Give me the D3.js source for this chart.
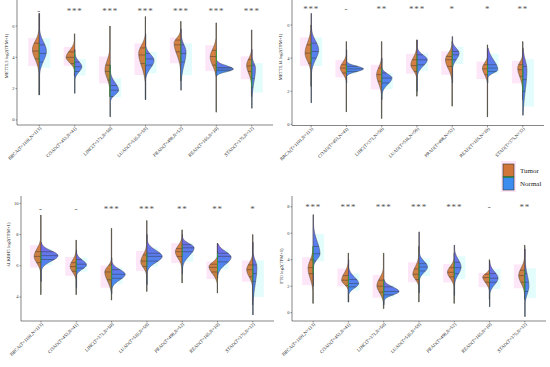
<!DOCTYPE html>
<html><head><meta charset="utf-8">
<script src="https://cdn.jsdelivr.net/npm/d3@7"></script>
<style>html,body{margin:0;padding:0;background:#fff;}svg{display:block;}</style>
</head><body><svg id="c" width="550" height="367"></svg>
<script>
// ---------------- DATA ----------------
const cancers = ["BRCA(T=1101,N=113)","COAD(T=453,N=41)","LIHC(T=371,N=50)","LUAD(T=516,N=59)","PRAD(T=498,N=52)","READ(T=165,N=10)","STAD(T=375,N=32)"];
const genes = ["METTL3","METTL14","ALKBH5","FTO"];
const groups = ["Tumor","Normal"];

// significance labels per gene
const sigMETTL3  = ["-","***","***","***","***","***","***"];
const sigMETTL14 = ["***","-","**","***","*","*","**"];
const sigALKBH5  = ["-","-","***","***","**","**","*"];
const sigFTO     = ["***","***","***","***","***","-","**"];

// each half: [min, bodyLow, q1, median, q3, bodyHigh, max, mode, relative max density]
const tumorMETTL3 = [
  [1.6,3.2,3.9,4.4,4.9,5.6,6.8,4.5,0.40],
  [2.8,3.3,3.6,4.0,4.35,4.9,5.5,4.0,0.50],
  [1.5,2.1,2.55,3.1,3.5,4.4,6.0,3.2,0.30],
  [1.3,2.6,3.6,4.15,4.6,5.3,6.6,4.25,0.40],
  [2.5,3.4,4.35,4.8,5.1,5.6,6.3,4.9,0.40],
  [0.5,2.9,3.5,4.05,4.45,5.1,6.2,4.0,0.36],
  [1.5,2.4,3.1,3.45,3.85,4.35,5.75,3.5,0.30]];
const normalMETTL3 = [
  [1.6,3.1,3.7,4.25,4.8,5.6,6.8,4.4,0.42],
  [1.7,2.7,3.1,3.4,3.7,4.1,4.5,3.4,0.42],
  [0.2,1.3,1.5,1.9,2.2,2.9,3.5,1.9,0.50],
  [1.3,2.8,3.5,3.9,4.25,4.6,5.5,3.8,0.50],
  [1.9,2.6,3.7,4.25,4.8,5.3,5.8,4.35,0.30],
  [2.8,2.9,3.15,3.25,3.35,3.7,3.8,3.25,1.00],
  [0.75,1.5,2.1,2.65,3.5,4.0,4.5,3.3,0.22]];
const tumorMETTL14 = [
  [2.3,3.3,3.7,4.3,4.8,5.6,6.0,4.3,0.36],
  [0.75,2.7,3.1,3.4,3.6,4.1,5.0,3.4,0.36],
  [0.35,1.9,2.6,3.0,3.4,3.9,5.0,3.0,0.30],
  [1.7,2.9,3.2,3.55,3.9,4.5,5.1,3.6,0.36],
  [1.1,2.8,3.5,3.9,4.1,4.7,5.0,3.9,0.40],
  [0.45,2.6,3.0,3.35,3.6,4.0,4.8,3.4,0.30],
  [1.5,2.3,2.9,3.3,3.6,4.1,5.0,3.4,0.30]];
const normalMETTL14 = [
  [1.3,3.3,4.0,4.4,4.9,5.6,6.7,4.5,0.44],
  [2.5,3.0,3.2,3.35,3.5,3.7,4.5,3.35,1.00],
  [1.5,2.0,2.5,2.8,3.1,3.3,4.0,2.8,0.60],
  [2.0,3.1,3.6,3.9,4.2,4.5,5.1,3.9,0.60],
  [2.5,3.5,3.9,4.2,4.4,4.9,5.3,4.3,0.40],
  [2.5,2.9,3.2,3.4,3.6,4.5,4.6,3.3,0.60],
  [0.55,0.7,2.0,2.7,3.5,4.5,4.6,3.3,0.24]];
const tumorALKBH5 = [
  [4.15,5.7,6.2,6.6,6.9,7.6,9.25,6.6,0.40],
  [4.15,5.2,5.65,5.95,6.2,6.8,7.65,5.95,0.36],
  [3.8,4.4,5.1,5.6,6.05,6.3,8.4,5.6,0.40],
  [4.35,5.5,5.95,6.3,6.7,7.2,8.9,6.25,0.36],
  [4.9,6.0,6.6,6.9,7.1,7.7,8.3,6.9,0.40],
  [4.25,5.0,5.6,5.9,6.1,6.5,7.45,5.95,0.50],
  [3.5,4.8,5.3,5.75,6.05,6.6,8.0,5.75,0.36]];
const normalALKBH5 = [
  [5.0,5.9,6.4,6.65,6.9,7.3,7.5,6.65,1.00],
  [4.6,5.5,5.85,6.1,6.4,6.7,7.0,6.05,0.60],
  [4.2,4.7,5.2,5.45,5.75,6.1,6.5,5.45,0.80],
  [4.8,5.8,6.3,6.6,6.8,7.4,8.0,6.6,0.90],
  [5.5,6.1,6.9,7.15,7.35,7.7,8.0,7.15,0.70],
  [5.2,5.6,6.25,6.6,6.8,7.3,7.4,6.55,0.80],
  [2.85,3.7,5.0,5.5,6.05,6.8,7.5,5.9,0.24]];
const tumorFTO = [
  [0.7,1.8,2.95,3.4,4.0,4.6,5.0,3.35,0.30],
  [0.8,1.8,2.05,2.45,2.8,3.6,4.5,2.45,0.40],
  [0.3,0.9,1.55,2.0,2.45,3.2,4.5,2.05,0.40],
  [0.8,2.1,2.5,2.9,3.3,4.1,5.0,2.9,0.36],
  [0.7,2.1,2.7,3.05,3.4,3.95,4.5,3.05,0.40],
  [1.0,1.8,2.3,2.65,2.9,3.2,4.0,2.7,0.40],
  [1.0,1.6,2.3,2.8,3.2,4.0,5.1,2.8,0.36]];
const normalFTO = [
  [2.0,3.6,3.9,4.45,5.0,6.35,7.4,4.45,0.40],
  [0.8,1.5,1.95,2.2,2.5,3.2,4.0,2.2,0.60],
  [0.6,1.05,1.35,1.6,1.95,2.3,2.5,1.6,0.90],
  [1.5,2.6,3.15,3.45,3.7,4.35,6.1,3.45,0.50],
  [1.3,2.3,2.95,3.4,3.8,4.6,5.1,3.45,0.40],
  [0.45,1.6,2.3,2.6,2.95,3.6,3.9,2.6,0.50],
  [-0.3,0.8,1.6,2.3,2.95,3.8,4.8,2.0,0.24]];

const yTicksMETTL3 = [0,2,4,6], yTicksMETTL14 = [0,2,4,6], yTicksALKBH5 = [4,6,8,10], yTicksFTO = [0,2,4,6,8];

// ---------------- LAYOUT ----------------
const panels = [
  {gene:"METTL3", sig:sigMETTL3, T:tumorMETTL3, N:normalMETTL3, ticks:yTicksMETTL3,
   xr:[18,273], yd:[-0.32,7.66], yr:[125,0], ax:17, lab:[6,56], sigY:10},
  {gene:"METTL14", sig:sigMETTL14, T:tumorMETTL14, N:normalMETTL14, ticks:yTicksMETTL14,
   xr:[290,544], yd:[-0.07,7.51], yr:[125.5,0], ax:292, lab:[280,57], sigY:8},
  {gene:"ALKBH5", sig:sigALKBH5, T:tumorALKBH5, N:normalALKBH5, ticks:yTicksALKBH5,
   xr:[19.8,274], yd:[2.46,10.47], yr:[321,196], ax:21, lab:[8,245], sigY:208},
  {gene:"FTO", sig:sigFTO, T:tumorFTO, N:normalFTO, ticks:yTicksFTO,
   xr:[292,546], yd:[-0.63,8.81], yr:[321,196], ax:292, lab:[281,266], sigY:206}
];

const svg = d3.select("#c");
const defs = svg.append("defs");
const gT = defs.append("linearGradient").attr("id","gT").attr("x1",0).attr("y1",0).attr("x2",0).attr("y2",1);
gT.append("stop").attr("offset","0%").attr("stop-color","#b98a35");
gT.append("stop").attr("offset","35%").attr("stop-color","#d6793a");
gT.append("stop").attr("offset","65%").attr("stop-color","#c07a36");
gT.append("stop").attr("offset","100%").attr("stop-color","#7f8a2c");
const gN = defs.append("linearGradient").attr("id","gN").attr("x1",0).attr("y1",0).attr("x2",0).attr("y2",1);
gN.append("stop").attr("offset","0%").attr("stop-color","#7a5ce6");
gN.append("stop").attr("offset","45%").attr("stop-color","#4f78ee");
gN.append("stop").attr("offset","100%").attr("stop-color","#2f92f2");

const wScale = d3.scaleLinear().domain([0,1]).range([0,17]);
const serif = "'Liberation Serif','DejaVu Serif',serif";

function widthAt(d, v){
  const [mn,bLo,q1,med,q3,bHi,mx,mode,w] = d;
  if (v < mn || v > mx) return 0;
  const s = v < mode ? Math.max((mode-bLo)/2.1, 0.02) : Math.max((bHi-mode)/2.1, 0.02);
  const z = (v-mode)/s;
  return Math.max(wScale(w*Math.exp(-0.5*z*z)), 0.35);
}

panels.forEach(p => {
  const g = svg.append("g");
  const x = d3.scalePoint().domain(cancers).range(p.xr).padding(0.6);
  const y = d3.scaleLinear().domain(p.yd).range(p.yr);

  // faint background tint boxes behind each half
  cancers.forEach((c,i) => {
    const cx = x(c);
    [[p.T[i],-1,"#fde6f7"],[p.N[i],1,"#e3fcfc"]].forEach(([d,side,col]) => {
      const yt = y(d[5]), yb = y(d[1]);
      g.append("rect").attr("x", side<0 ? cx-11 : cx).attr("width",11)
        .attr("y", yt + (yb-yt)*0.15).attr("height",(yb-yt)*0.75).attr("fill",col);
    });
  });

  // violins
  cancers.forEach((c,i) => {
    const cx = x(c);
    const T = p.T[i], N = p.N[i];
    const lo = Math.min(T[0],N[0]), hi = Math.max(T[6],N[6]);
    g.append("line").attr("x1",cx).attr("x2",cx).attr("y1",y(lo)).attr("y2",y(hi))
      .attr("stroke","#555").attr("stroke-width",0.7);
    [[T,-1,"url(#gT)"],[N,1,"url(#gN)"]].forEach(([d,side,fill]) => {
      const vals = d3.range(81).map(k => d[0] + (d[6]-d[0])*k/80);
      const pts = vals.map(v => [cx + side*widthAt(d,v), y(v)]);
      const poly = [[cx, y(d[0])], ...pts, [cx, y(d[6])]];
      g.append("path").attr("d", d3.line().curve(d3.curveLinear)(poly) + "Z")
        .attr("fill", fill).attr("stroke","#3a3a3a").attr("stroke-width",0.45).attr("fill-opacity",0.95);
      [d[2],d[3],d[4]].forEach(q => {
        g.append("line").attr("x1",cx).attr("x2",cx + side*widthAt(d,q))
          .attr("y1",y(q)).attr("y2",y(q)).attr("stroke","#333").attr("stroke-width",0.45);
      });
    });
    const bLo = Math.min(T[2],N[2]), bHi = Math.max(T[4],N[4]);
    g.append("line").attr("x1",cx).attr("x2",cx).attr("y1",y(bLo)).attr("y2",y(bHi))
      .attr("stroke","#2e9a3c").attr("stroke-width",0.9);
    g.append("text").attr("x",cx).attr("y",p.sigY+4).attr("text-anchor","middle")
      .attr("font-family",serif).attr("font-size",9).attr("fill","#555")
      .attr("letter-spacing",0.8).text(p.sig[i]);
  });

  // axes
  const y0 = p.yr[0];
  g.append("line").attr("x1",p.ax).attr("x2",p.ax).attr("y1",p.yr[1]).attr("y2",y0).attr("stroke","#333").attr("stroke-width",0.6);
  g.append("line").attr("x1",p.ax).attr("x2",p.xr[1]).attr("y1",y0).attr("y2",y0).attr("stroke","#333").attr("stroke-width",0.6);
  p.ticks.forEach(t => {
    g.append("line").attr("x1",p.ax-1.5).attr("x2",p.ax).attr("y1",y(t)).attr("y2",y(t)).attr("stroke","#333").attr("stroke-width",0.5);
    g.append("text").attr("x",p.ax-2.5).attr("y",y(t)+1.5).attr("text-anchor","end")
      .attr("font-family",serif).attr("font-size",4.5).attr("fill","#333").text(t);
  });
  cancers.forEach(c => {
    const cx = x(c);
    g.append("line").attr("x1",cx).attr("x2",cx).attr("y1",y0).attr("y2",y0+1.5).attr("stroke","#333").attr("stroke-width",0.5);
    g.append("text").attr("transform",`translate(${cx+1.5},${y0+3}) rotate(-45)`)
      .attr("text-anchor","end").attr("dominant-baseline","middle")
      .attr("font-family",serif).attr("font-size",4.7).attr("fill","#222").text(c);
  });
  g.append("text").attr("transform",`translate(${p.lab[0]+1.5},${p.lab[1]}) rotate(-90)`)
    .attr("text-anchor","middle").attr("font-family",serif).attr("font-size",4.6).attr("fill","#222")
    .text(p.gene + " log2(TPM+1)");
});

// legend
const lg = svg.append("g");
lg.append("rect").attr("x",501).attr("y",161).attr("width",15).attr("height",31).attr("fill","#fde6f7");
groups.forEach((k,i) => {
  lg.append("rect").attr("x",503).attr("y",164+i*13).attr("width",11).attr("height",13)
    .attr("fill", i===0 ? "#d0763a" : "#3d8cf0").attr("stroke","#333").attr("stroke-width",0.6);
  lg.append("text").attr("x",520).attr("y",173+i*13).attr("font-family",serif).attr("font-size",7)
    .attr("fill","#222").text(k);
});
lg.append("line").attr("x1",503).attr("x2",514).attr("y1",177).attr("y2",177).attr("stroke","#1f8a3a").attr("stroke-width",1.2);
</script></body></html>
